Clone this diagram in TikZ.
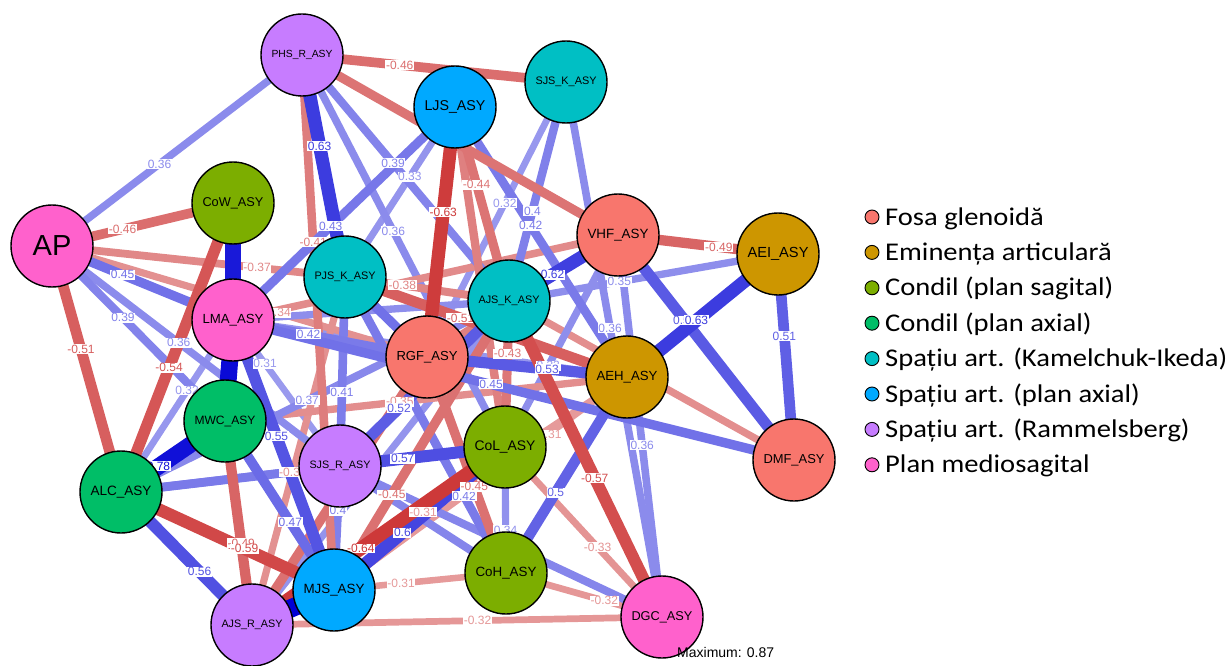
\documentclass[tikz,border=0pt]{standalone}
\usepackage{fontspec}
\usepackage{graphicx}
\newfontfamily\lsans{Liberation Sans}
\newfontfamily\carl{Carlito}
\pgfdeclarelayer{edges}
\pgfdeclarelayer{labels}
\pgfsetlayers{edges,labels,main}
\definecolor{cFG}{HTML}{F8766D}
\definecolor{cEA}{HTML}{CD9600}
\definecolor{cCS}{HTML}{7CAE00}
\definecolor{cCA}{HTML}{00BE67}
\definecolor{cKI}{HTML}{00BFC4}
\definecolor{cPA}{HTML}{00A9FF}
\definecolor{cRA}{HTML}{C77CFF}
\definecolor{cPM}{HTML}{FF61CC}
\definecolor{posc}{HTML}{0000D5}
\definecolor{negc}{HTML}{BF0000}
\newcommand\ndlbl[1]{\resizebox{61pt}{!}{#1}}
\newcommand\edg[5]{%
  \pgfmathsetmacro\ew{abs(#3)}%
  \pgfmathsetmacro\ep{min(100,\ew/0.87*100+4)}%
  \ifdim #3pt>0pt \colorlet{ec}{posc!\ep!white}\else\colorlet{ec}{negc!\ep!white}\fi
  \begin{pgfonlayer}{edges}\draw[line width=\ew*21pt, ec] (#1.center) -- (#2.center);\end{pgfonlayer}%
  \def\tmplbl{#4}%
  \ifx\tmplbl\empty\else
  \begin{pgfonlayer}{labels}\path (#1.center) -- node[elbl, text=ec, pos=#5]{#4} (#2.center);\end{pgfonlayer}%
  \fi}
\tikzset{
  nd/.style={circle, draw=black, line width=1.4pt, minimum size=82pt, inner sep=0pt, font=\lsans},
  elbl/.style={fill=white, inner sep=0.7pt, font=\lsans\fontsize{12}{12}\selectfont},
  legc/.style={circle, draw=black, line width=0.9pt, minimum size=14pt, inner sep=0pt},
  legt/.style={anchor=base west, inner sep=0pt, font=\carl\fontsize{25.5}{25.5}\selectfont}
}
\begin{document}
\begin{tikzpicture}[x=1pt,y=-1pt]
\useasboundingbox (0,0) rectangle (1232,666);
% nodes
\node[nd, fill=cRA] (PHS) at (302,55) {\ndlbl{PHS\_R\_ASY}};
\node[nd, fill=cKI] (SJSK) at (566,82) {\ndlbl{SJS\_K\_ASY}};
\node[nd, fill=cPA] (LJS) at (455,107) {\ndlbl{LJS\_ASY}};
\node[nd, fill=cPM, font=\lsans\fontsize{29}{29}\selectfont] (AP) at (52,246) {AP};
\node[nd, fill=cCS] (CoW) at (233,203) {\ndlbl{CoW\_ASY}};
\node[nd, fill=cFG] (VHF) at (618,235) {\ndlbl{VHF\_ASY}};
\node[nd, fill=cEA] (AEI) at (778,254) {\ndlbl{AEI\_ASY}};
\node[nd, fill=cKI] (PJSK) at (345,277) {\ndlbl{PJS\_K\_ASY}};
\node[nd, fill=cKI] (AJSK) at (509,301) {\ndlbl{AJS\_K\_ASY}};
\node[nd, fill=cPM] (LMA) at (233,320) {\ndlbl{LMA\_ASY}};
\node[nd, fill=cFG] (RGF) at (427,357) {\ndlbl{RGF\_ASY}};
\node[nd, fill=cEA] (AEH) at (627,377) {\ndlbl{AEH\_ASY}};
\node[nd, fill=cCA] (MWC) at (225,421) {\ndlbl{MWC\_ASY}};
\node[nd, fill=cRA] (SJSR) at (340,466) {\ndlbl{SJS\_R\_ASY}};
\node[nd, fill=cCS] (CoL) at (505,447) {\ndlbl{CoL\_ASY}};
\node[nd, fill=cFG] (DMF) at (794,460) {\ndlbl{DMF\_ASY}};
\node[nd, fill=cCA] (ALC) at (121,492) {\ndlbl{ALC\_ASY}};
\node[nd, fill=cPA] (MJS) at (334,590) {\ndlbl{MJS\_ASY}};
\node[nd, fill=cCS] (CoH) at (506,573) {\ndlbl{CoH\_ASY}};
\node[nd, fill=cRA] (AJSR) at (252,625) {\ndlbl{AJS\_R\_ASY}};
\node[nd, fill=cPM] (DGC) at (662,617) {\ndlbl{DGC\_ASY}};
% edges (ascending |w|)
\edg{LMA}{SJSR}{0.31}{0.31}{0.3}
\edg{AJSR}{AEH}{-0.31}{-0.31}{0.456}
\edg{MJS}{AEH}{-0.31}{-0.31}{0.73}
\edg{MJS}{CoH}{-0.31}{-0.31}{0.39}
\edg{SJSK}{RGF}{0.32}{0.32}{0.44}
\edg{ALC}{LMA}{0.32}{0.32}{0.59}
\edg{LMA}{AEH}{0.32}{0.32}{0.8}
\edg{CoH}{DGC}{-0.32}{-0.32}{0.63}
\edg{AJSR}{DGC}{-0.32}{-0.32}{0.55}
\edg{LJS}{PJSK}{0.33}{0.33}{0.41}
\edg{CoL}{DGC}{-0.33}{-0.33}{0.59}
\edg{AJSK}{AJSR}{0.33}{}{0.5}
\edg{CoL}{CoH}{0.34}{0.34}{0.66}
\edg{PJSK}{AJSR}{-0.34}{-0.34}{0.56}
\edg{AP}{RGF}{-0.34}{-0.34}{0.6}
\edg{AEI}{AJSK}{0.35}{0.35}{0.59}
\edg{AJSK}{DMF}{-0.35}{}{0.5}
\edg{VHF}{CoL}{0.35}{}{0.5}
\edg{MWC}{AEH}{-0.35}{-0.35}{0.435}
\edg{LMA}{AJSK}{0.35}{}{0.5}
\edg{AP}{PHS}{0.36}{0.36}{0.43}
\edg{AP}{SJSR}{0.36}{0.36}{0.44}
\edg{PHS}{CoL}{0.36}{0.36}{0.45}
\edg{SJSK}{DGC}{0.36}{0.36}{0.46}
\edg{VHF}{DGC}{0.36}{0.36}{0.55}
\edg{LMA}{VHF}{-0.36}{}{0.5}
\edg{AP}{PJSK}{-0.37}{-0.37}{0.7}
\edg{ALC}{AJSK}{0.37}{0.37}{0.48}
\edg{PJSK}{AJSK}{-0.38}{-0.38}{0.35}
\edg{SJSR}{CoH}{0.38}{}{0.5}
\edg{SJSR}{DGC}{0.38}{}{0.5}
\edg{AP}{MWC}{0.39}{0.39}{0.41}
\edg{PHS}{AJSK}{0.39}{0.39}{0.44}
\edg{SJSK}{AJSK}{0.4}{0.4}{0.59}
\edg{SJSR}{MJS}{0.4}{0.4}{0.36}
\edg{ALC}{SJSR}{0.4}{}{0.5}
\edg{LJS}{CoL}{-0.4}{}{0.5}
\edg{RGF}{VHF}{-0.4}{}{0.5}
\edg{PJSK}{SJSR}{0.41}{0.41}{0.61}
\edg{PHS}{MJS}{-0.41}{-0.41}{0.35}
\edg{LJS}{AEH}{0.42}{0.42}{0.44}
\edg{LMA}{RGF}{0.42}{0.42}{0.39}
\edg{PJSK}{CoH}{0.42}{0.42}{0.74}
\edg{ALC}{CoL}{0.42}{}{0.5}
\edg{LMA}{LJS}{0.43}{0.43}{0.44}
\edg{AJSK}{CoL}{-0.43}{-0.43}{0.36}
\edg{LJS}{AJSK}{-0.44}{-0.44}{0.4}
\edg{PHS}{VHF}{-0.44}{}{0.5}
\edg{AP}{LMA}{0.45}{0.45}{0.39}
\edg{RGF}{CoH}{-0.45}{-0.45}{0.6}
\edg{AJSK}{MJS}{-0.45}{-0.45}{0.67}
\edg{PJSK}{RGF}{0.45}{}{0.5}
\edg{RGF}{AJSR}{-0.45}{}{0.5}
\edg{LMA}{DMF}{0.45}{0.45}{0.46}
\edg{AP}{CoW}{-0.46}{-0.46}{0.39}
\edg{PHS}{SJSK}{-0.46}{-0.46}{0.37}
\edg{MWC}{MJS}{0.47}{0.47}{0.6}
\edg{MWC}{AJSR}{-0.49}{-0.49}{0.6}
\edg{VHF}{AEI}{-0.49}{-0.49}{0.63}
\edg{CoH}{AEH}{0.5}{0.5}{0.41}
\edg{AP}{ALC}{-0.51}{-0.51}{0.42}
\edg{AEI}{DMF}{0.51}{0.51}{0.4}
\edg{PJSK}{AEH}{-0.51}{-0.51}{0.41}
\edg{SJSR}{AJSK}{0.52}{0.52}{0.35}
\edg{RGF}{AEH}{0.53}{0.53}{0.6}
\edg{VHF}{DMF}{0.53}{0.53}{0.38}
\edg{CoW}{ALC}{-0.54}{-0.54}{0.57}
\edg{LMA}{MJS}{0.55}{0.55}{0.43}
\edg{ALC}{AJSR}{0.56}{0.56}{0.6}
\edg{SJSR}{CoL}{0.57}{0.57}{0.38}
\edg{AJSK}{DGC}{-0.57}{-0.57}{0.56}
\edg{ALC}{MJS}{-0.59}{-0.59}{0.58}
\edg{MJS}{CoL}{0.6}{0.6}{0.4}
\edg{AJSK}{VHF}{0.62}{0.62}{0.4}
\edg{PHS}{PJSK}{0.63}{0.63}{0.41}
\edg{LJS}{RGF}{-0.63}{-0.63}{0.42}
\edg{AEI}{AEH}{0.63}{0.63}{0.54}
\edg{AJSR}{CoL}{-0.64}{-0.64}{0.43}
\edg{CoW}{LMA}{0.75}{}{0.5}
\edg{ALC}{MWC}{0.78}{0.78}{0.36}
\edg{LMA}{MWC}{0.8}{}{0.5}
\edg{AJSR}{MJS}{0.87}{}{0.5}
% maximum note
\node[anchor=base west, inner sep=0pt, font=\lsans\fontsize{14}{14}\selectfont] (maxn) at (677,657) {Maximum: 0.87};
% legend
\node[legc, fill=cFG] (lc1) at (872,217) {};
\node[legt] (lt1) at (885,225) {\scalebox{1.12}[1]{Fosa glenoidă}};
\node[legc, fill=cEA] (lc2) at (872,252.4) {};
\node[legt] (lt2) at (885,260.4) {\scalebox{1.12}[1]{Eminența articulară}};
\node[legc, fill=cCS] (lc3) at (872,287.8) {};
\node[legt] (lt3) at (885,295.8) {\scalebox{1.12}[1]{Condil (plan sagital)}};
\node[legc, fill=cCA] (lc4) at (872,323.2) {};
\node[legt] (lt4) at (885,331.2) {\scalebox{1.12}[1]{Condil (plan axial)}};
\node[legc, fill=cKI] (lc5) at (872,358.6) {};
\node[legt] (lt5) at (885,366.6) {\scalebox{1.12}[1]{Spațiu art. (Kamelchuk-Ikeda)}};
\node[legc, fill=cPA] (lc6) at (872,394) {};
\node[legt] (lt6) at (885,402) {\scalebox{1.12}[1]{Spațiu art. (plan axial)}};
\node[legc, fill=cRA] (lc7) at (872,429.4) {};
\node[legt] (lt7) at (885,437.4) {\scalebox{1.12}[1]{Spațiu art. (Rammelsberg)}};
\node[legc, fill=cPM] (lc8) at (872,464.8) {};
\node[legt] (lt8) at (885,472.8) {\scalebox{1.12}[1]{Plan mediosagital}};
\end{tikzpicture}
\end{document}
